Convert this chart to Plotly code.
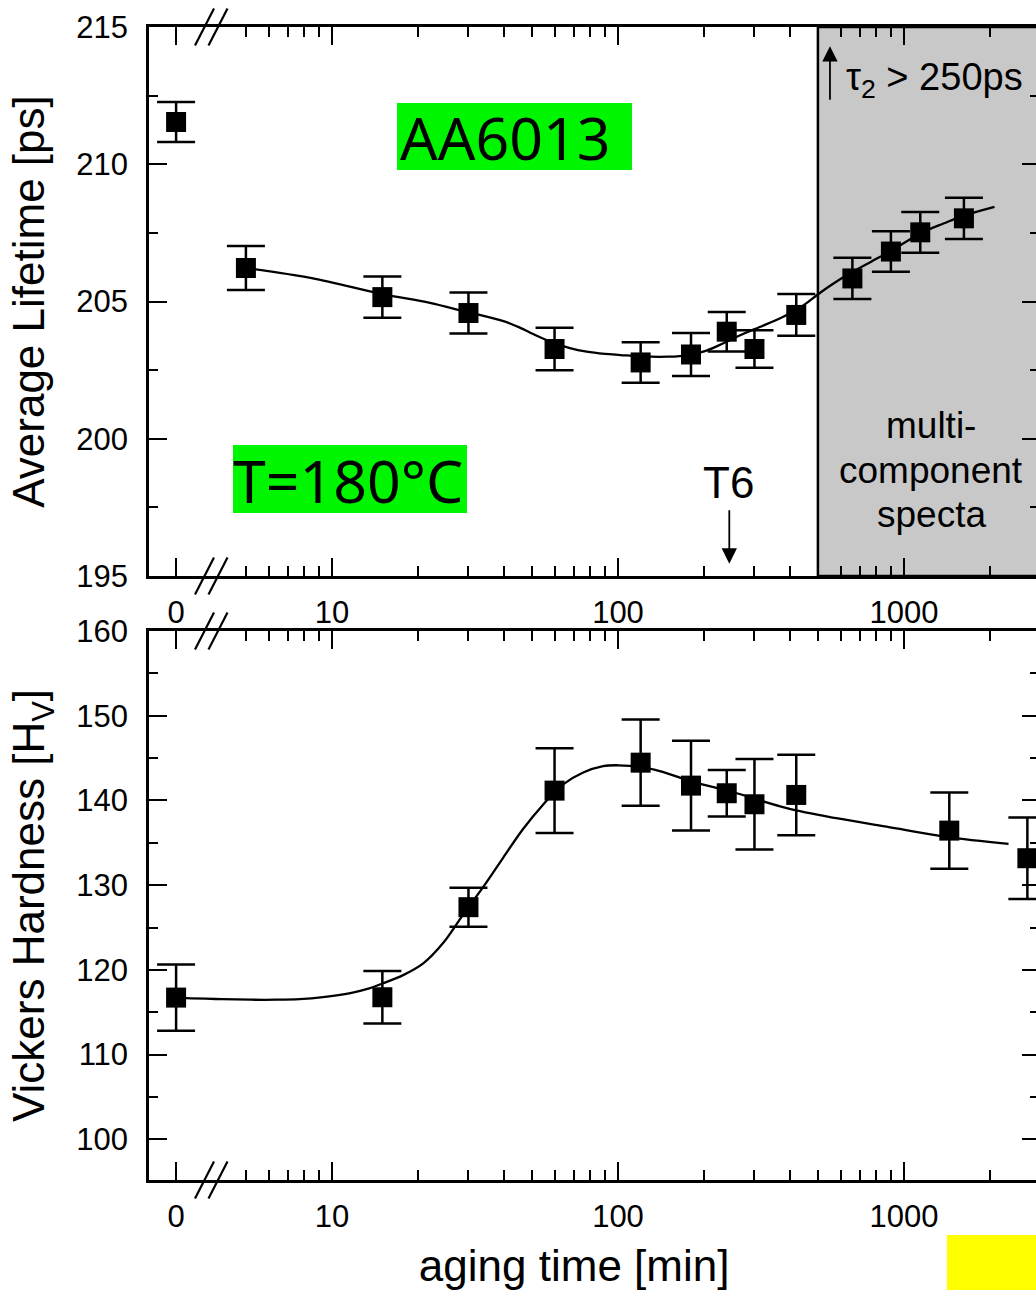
import math
import plotly.graph_objects as go

# ---------------- data ----------------
# positron average lifetime vs aging time (T = 180 C)
life_time_min = [0, 5, 15, 30, 60, 120, 180, 240, 300, 420, 660, 900, 1140, 1620]
life_ps = [211.54, 206.22, 205.16, 204.58, 203.27, 202.78, 203.07, 203.90, 203.27,
           204.51, 205.84, 206.82, 207.52, 208.03]
life_err = [0.73, 0.80, 0.75, 0.75, 0.77, 0.74, 0.78, 0.72, 0.68, 0.76, 0.75, 0.74, 0.74, 0.75]

# guide-to-the-eye curve through the lifetime data
life_fit_t = [5, 8.5, 15, 22, 30, 33.9, 38.7, 41.9, 45.4, 52, 59.3, 67.9, 77.7, 90, 102, 120,
              150, 175, 200, 225, 250, 280, 313, 369, 421, 460, 494, 560, 663, 770, 893, 1000,
              1138, 1380, 1619, 2072]
life_fit_v = [206.22, 205.85, 205.27, 204.95, 204.60, 204.48, 204.32, 204.20, 204.05, 203.75,
              203.50, 203.30, 203.17, 203.09, 203.05, 203.00, 202.99, 203.04, 203.18, 203.40,
              203.63, 203.86, 204.07, 204.39, 204.70, 204.97, 205.22, 205.62, 206.09, 206.46,
              206.82, 207.13, 207.48, 207.85, 208.13, 208.45]

# Vickers hardness vs aging time
hard_time_min = [0, 15, 30, 60, 120, 180, 240, 300, 420, 1440, 2700]
hard_hv = [116.73, 116.77, 127.4, 141.16, 144.46, 141.75, 140.85, 139.55, 140.65, 136.44, 133.18]
hard_err = [3.9, 3.1, 2.3, 5.0, 5.1, 5.3, 2.75, 5.35, 4.75, 4.5, 4.8]

hard_fit_t = [0, 3.1, 4.1, 5.2, 6.4, 7.7, 9.3, 11.6, 13.2, 15.1, 17.8, 20.9, 24.5, 28.7,
              33.8, 39.6, 46.5, 54.7, 64.3, 75.6, 88.7, 100, 120, 140, 183, 260, 389, 580,
              868, 1400, 2320]
hard_fit_v = [116.73, 116.66, 116.55, 116.48, 116.48, 116.55, 116.78, 117.25, 117.72, 118.43,
              119.41, 120.8, 123.2, 126.5, 129.8, 133.2, 136.6, 139.5, 141.9, 143.3,
              144.05, 144.15, 143.95, 143.45, 142.2, 140.85, 139.1, 137.9, 136.9, 135.7,
              134.87]

# axis ticks
x_tick_vals = [0, 10, 100, 1000]
x_tick_text = ["0", "10", "100", "1000"]
x_minor_vals = [5, 6, 7, 8, 9, 20, 30, 40, 50, 60, 70, 80, 90,
                200, 300, 400, 500, 600, 700, 800, 900, 2000]
life_ticks = [195, 200, 205, 210, 215]
hard_ticks = [100, 110, 120, 130, 140, 150, 160]

multi_component_start_min = 500   # shaded region: multi-component spectra
t6_time_min = 245                  # T6 marker arrow
tau_arrow_time_min = 551

# ---------------- layout geometry ----------------
W, H = 1036, 1290
ML, MR, MT, MB = 149, 0, 27, 110
PW, PH = W - ML - MR, H - MT - MB
ZERO_AT = 2.85          # where "0" sits on the broken log axis
DEC_PX = 286.0          # pixels per decade
X10_PX = 332.0          # pixel of x = 10


def disp(ts):
    return [ZERO_AT if t == 0 else t for t in ts]


def logpos(px):
    return 1 + (px - X10_PX) / DEC_PX


def ppx(px):
    return (px - ML) / PW


def ppy(py):
    return (H - MB - py) / PH


x_range = [logpos(ML), logpos(W)]
top_dom = [ppy(576), 1.0]
bot_dom = [0.0, ppy(631)]

FONT = "Liberation Sans, Arial, Helvetica, sans-serif"
BLACK = "black"

fig = go.Figure()

# lifetime panel
fig.add_trace(go.Scatter(x=life_fit_t, y=life_fit_v, mode="lines",
                         line=dict(color=BLACK, width=2.3, shape="spline", smoothing=1.0),
                         xaxis="x", yaxis="y", hoverinfo="skip"))
fig.add_trace(go.Scatter(x=disp(life_time_min), y=life_ps, mode="markers",
                         marker=dict(symbol="square", size=20, color=BLACK),
                         error_y=dict(type="data", array=life_err, thickness=2.5, width=19,
                                      color=BLACK),
                         xaxis="x", yaxis="y"))
# hardness panel
fig.add_trace(go.Scatter(x=disp(hard_fit_t), y=hard_fit_v, mode="lines",
                         line=dict(color=BLACK, width=2.3, shape="spline", smoothing=1.0),
                         xaxis="x2", yaxis="y2", hoverinfo="skip"))
fig.add_trace(go.Scatter(x=disp(hard_time_min), y=hard_hv, mode="markers",
                         marker=dict(symbol="square", size=20, color=BLACK),
                         error_y=dict(type="data", array=hard_err, thickness=2.5, width=19,
                                      color=BLACK),
                         xaxis="x2", yaxis="y2"))
# invisible traces carrying the right-hand tick axes
fig.add_trace(go.Scatter(x=[None], y=[None], xaxis="x", yaxis="y3", showlegend=False))
fig.add_trace(go.Scatter(x=[None], y=[None], xaxis="x2", yaxis="y4", showlegend=False))

xcommon = dict(type="log", range=x_range, domain=[0, 1],
               tickmode="array", tickvals=disp(x_tick_vals), ticktext=x_tick_text,
               ticks="inside", ticklen=18, tickwidth=2, tickcolor=BLACK,
               minor=dict(tickmode="array", tickvals=x_minor_vals, ticks="inside",
                          ticklen=10, tickwidth=2, tickcolor=BLACK, showgrid=False),
               showline=True, linewidth=2.5, linecolor=BLACK, mirror="ticks",
               showgrid=False, zeroline=False, automargin=False,
               tickfont=dict(size=31, color=BLACK, family=FONT),
               ticklabelstandoff=7)

ycommon = dict(ticks="inside", ticklen=18, tickwidth=2, tickcolor=BLACK,
               showline=True, linewidth=2.5, linecolor=BLACK, mirror=False,
               showgrid=False, zeroline=False, automargin=False,
               tickfont=dict(size=31, color=BLACK, family=FONT),
               ticklabelstandoff=12)

yright = dict(side="right", ticks="inside", ticklen=14, tickwidth=2, tickcolor=BLACK,
              showticklabels=False, showline=False, showgrid=False, zeroline=False,
              automargin=False)

fig.update_layout(
    width=W, height=H, template="none",
    margin=dict(l=ML, r=MR, t=MT, b=MB),
    paper_bgcolor="white", plot_bgcolor="white",
    showlegend=False,
    font=dict(family=FONT, color=BLACK),
    xaxis=dict(anchor="y", **xcommon),
    xaxis2=dict(anchor="y2", **xcommon,
                title=dict(text="aging time [min]&nbsp;&nbsp;&nbsp;",
                           font=dict(size=44, family=FONT), standoff=20)),
    yaxis=dict(domain=top_dom, range=[195, 215], anchor="x",
               tickvals=life_ticks,
               minor=dict(dtick=2.5, tick0=195, ticks="inside", ticklen=9, tickwidth=2,
                          tickcolor=BLACK, showgrid=False),
               title=dict(text="Average Lifetime [ps]", font=dict(size=44, family=FONT),
                          standoff=18),
               **ycommon),
    yaxis2=dict(domain=bot_dom, range=[95.2, 160], anchor="x2",
                tickvals=hard_ticks,
                minor=dict(dtick=5, tick0=95, ticks="inside", ticklen=9, tickwidth=2,
                           tickcolor=BLACK, showgrid=False),
                title=dict(text="Vickers Hardness [H<sub>V</sub>]",
                           font=dict(size=44, family=FONT), standoff=18),
                **ycommon),
    yaxis3=dict(overlaying="y", anchor="x", range=[195, 215], tickvals=life_ticks,
                minor=dict(dtick=2.5, tick0=195, ticks="inside", ticklen=6, tickwidth=2,
                           tickcolor=BLACK, showgrid=False),
                **yright),
    yaxis4=dict(overlaying="y2", anchor="x2", range=[95.2, 160], tickvals=hard_ticks,
                minor=dict(dtick=5, tick0=95, ticks="inside", ticklen=6, tickwidth=2,
                           tickcolor=BLACK, showgrid=False),
                **yright),
)

shapes = []
# shaded multi-component region (top panel)
shapes.append(dict(type="rect", xref="x", yref="y domain",
                   x0=multi_component_start_min, x1=100000, y0=0, y1=1,
                   fillcolor="#c8c8c8", line=dict(color=BLACK, width=2.5), layer="below"))


# axis-break slashes "//"
def slashes(axis_py):
    out = []
    for x0p in (195, 208.5):
        out.append(dict(type="line", xref="paper", yref="paper",
                        x0=ppx(x0p), x1=ppx(x0p + 19), y0=ppy(axis_py + 18.5),
                        y1=ppy(axis_py - 18.5), line=dict(color=BLACK, width=2.2)))
    return out


for axis_py in (27, 576, 631, 1180):
    shapes += slashes(axis_py)

# green label boxes
shapes.append(dict(type="rect", xref="paper", yref="paper", x0=ppx(397), x1=ppx(632),
                   y0=ppy(170), y1=ppy(103), fillcolor="#00f500", line=dict(width=0),
                   layer="above"))
shapes.append(dict(type="rect", xref="paper", yref="paper", x0=ppx(233), x1=ppx(467),
                   y0=ppy(513), y1=ppy(445), fillcolor="#00f500", line=dict(width=0),
                   layer="above"))
# yellow patch bottom right
shapes.append(dict(type="rect", xref="paper", yref="paper", x0=ppx(947), x1=ppx(1040),
                   y0=ppy(1295), y1=ppy(1235), fillcolor="#ffff00", line=dict(width=0),
                   layer="above"))
fig.update_layout(shapes=shapes)

ann = []
LABEL_FONT = "Noto Sans, DejaVu Sans, sans-serif"
ann.append(dict(xref="paper", yref="paper", x=ppx(505), y=ppy(137), text="AA6013",
                showarrow=False, xanchor="center", yanchor="middle",
                font=dict(family=LABEL_FONT, size=59, color=BLACK)))
ann.append(dict(xref="paper", yref="paper", x=ppx(348), y=ppy(480), text="T=180°C",
                showarrow=False, xanchor="center", yanchor="middle",
                font=dict(family=LABEL_FONT, size=59, color=BLACK)))
# T6 arrow
ann.append(dict(xref="x", yref="y", x=math.log10(t6_time_min), y=195.45, text="",
                showarrow=True, axref="pixel", ayref="pixel", ax=0, ay=-55,
                arrowhead=2, arrowsize=1.7, arrowwidth=1.8, arrowcolor=BLACK))
ann.append(dict(xref="paper", yref="paper", x=ppx(728), y=ppy(482), text="T6",
                showarrow=False, xanchor="center", yanchor="middle",
                font=dict(family=FONT, size=44, color=BLACK)))
# tau_2 arrow and label
ann.append(dict(xref="x", yref="y", x=math.log10(tau_arrow_time_min), y=214.3, text="",
                showarrow=True, axref="pixel", ayref="pixel", ax=0, ay=55,
                arrowhead=2, arrowsize=1.7, arrowwidth=1.8, arrowcolor=BLACK))
ann.append(dict(xref="paper", yref="paper", x=ppx(844), y=ppy(80),
                text="τ<sub>2</sub> &gt; 250ps",
                showarrow=False, xanchor="left", yanchor="middle",
                font=dict(family=FONT, size=38, color=BLACK)))
# multi-component text
for txt, base in (("multi-", 438), ("component", 483), ("specta", 527)):
    ann.append(dict(xref="paper", yref="paper", x=ppx(931), y=ppy(base - 13), text=txt,
                    showarrow=False, xanchor="center", yanchor="middle",
                    font=dict(family=FONT, size=37, color=BLACK)))
fig.update_layout(annotations=ann)

fig.write_html("out.html")
